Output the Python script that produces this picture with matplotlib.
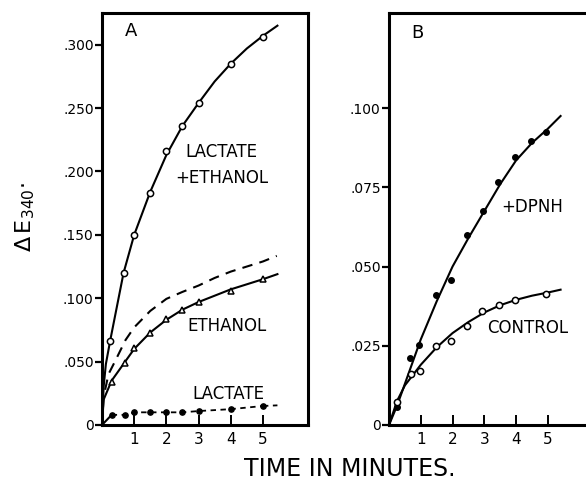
import matplotlib
matplotlib.use("Agg")
import matplotlib.pyplot as plt

# ---------------- data ----------------
# Panel A
lac_eth_x = [0.25, 0.67, 1.0, 1.5, 2.0, 2.5, 3.0, 4.0, 5.0]
lac_eth_y = [0.066, 0.120, 0.150, 0.183, 0.216, 0.236, 0.254, 0.285, 0.306]
lac_eth_curve_x = [0.0, 0.05, 0.12, 0.25, 0.67, 1.0, 1.5, 2.0, 2.5, 3.0, 3.5, 4.0, 4.5, 5.0, 5.45]
lac_eth_curve_y = [0.0, 0.030, 0.048, 0.066, 0.120, 0.150, 0.184, 0.213, 0.236, 0.254, 0.271, 0.285, 0.297, 0.307, 0.315]

eth_x = [0.3, 0.72, 1.0, 1.5, 2.0, 2.5, 3.0, 4.0, 5.0]
eth_y = [0.034, 0.049, 0.061, 0.0725, 0.084, 0.091, 0.097, 0.106, 0.115]
eth_curve_x = [0.0, 0.05, 0.3, 0.72, 1.0, 1.5, 2.0, 2.5, 3.0, 3.5, 4.0, 4.5, 5.0, 5.45]
eth_curve_y = [0.0, 0.020, 0.035, 0.050, 0.060, 0.073, 0.083, 0.091, 0.097, 0.102, 0.107, 0.111, 0.115, 0.119]

sum_curve_x = [0.0, 0.05, 0.2, 0.4, 0.73, 1.0, 1.5, 2.0, 2.5, 3.0, 3.5, 4.0, 4.5, 5.0, 5.43]
sum_curve_y = [0.0, 0.022, 0.040, 0.050, 0.067, 0.077, 0.090, 0.0995, 0.105, 0.110, 0.116, 0.121, 0.125, 0.129, 0.1334]

lac_x = [0.3, 0.7, 1.0, 1.5, 2.0, 2.5, 3.0, 4.0, 5.0]
lac_y = [0.008, 0.008, 0.010, 0.010, 0.010, 0.010, 0.011, 0.0125, 0.015]
lac_start_x = [0.0, 0.3]
lac_start_y = [0.0, 0.008]
lac_end_x = [5.0, 5.45]
lac_end_y = [0.015, 0.0155]

# Panel B
dpnh_x = [0.25, 0.66, 0.94, 1.47, 1.94, 2.44, 2.97, 3.44, 3.97, 4.47, 4.94]
dpnh_y = [0.0057, 0.021, 0.0253, 0.041, 0.0456, 0.060, 0.0674, 0.0766, 0.0845, 0.0896, 0.0924]
dpnh_curve_x = [0.0, 0.25, 1.0, 1.5, 2.0, 2.5, 3.0, 3.5, 4.0, 4.5, 5.0, 5.4]
dpnh_curve_y = [0.0, 0.006, 0.027, 0.039, 0.050, 0.059, 0.0675, 0.076, 0.0835, 0.089, 0.0935, 0.0975]

ctrl_x = [0.25, 0.69, 0.97, 1.47, 1.94, 2.44, 2.94, 3.47, 3.97, 4.94]
ctrl_y = [0.0073, 0.016, 0.017, 0.025, 0.0265, 0.0312, 0.036, 0.038, 0.0394, 0.0413]
ctrl_curve_x = [0.0, 0.25, 0.5, 1.0, 1.5, 2.0, 2.5, 3.0, 3.5, 4.0, 4.5, 5.0, 5.4]
ctrl_curve_y = [0.0, 0.0075, 0.0125, 0.019, 0.0245, 0.029, 0.0325, 0.0355, 0.0378, 0.0395, 0.0408, 0.0418, 0.0427]

a_yticks = [0, 0.05, 0.10, 0.15, 0.20, 0.25, 0.30]
a_yticklabels = ["0", ".050", ".100", ".150", ".200", ".250", ".300"]
b_yticks = [0, 0.025, 0.05, 0.075, 0.10]
b_yticklabels = ["0", ".025", ".050", ".075", ".100"]
xticks = [1, 2, 3, 4, 5]
xticklabels = ["1", "2", "3", "4", "5"]

# ---------------- figure ----------------
plt.rcParams['font.family'] = ['DejaVu Sans']
fig = plt.figure(figsize=(5.86, 4.82), dpi=100)
W, H = 586.0, 482.0
axA = fig.add_axes([102 / W, 1 - 425 / H, (308 - 102) / W, (425 - 13) / H])
axB = fig.add_axes([389 / W, 1 - 425 / H, (586 - 389) / W, (425 - 13) / H])

lw_axis = 2.2
lw_line = 1.5

for ax in (axA, axB):
    for s in ax.spines.values():
        s.set_linewidth(lw_axis)
    ax.tick_params(axis='y', direction='out', length=5, width=1.6, labelsize=10, pad=1)
    ax.tick_params(axis='x', direction='in', length=7, width=1.4, labelsize=11, pad=5)
    ax.set_xticks(xticks)
    ax.set_xticklabels(xticklabels)

axB.spines['right'].set_visible(False)

# Panel A
axA.set_xlim(0, 6.4)
axA.set_ylim(0, 0.325)
axA.set_yticks(a_yticks)
axA.set_yticklabels(a_yticklabels)

axA.plot(lac_eth_curve_x, lac_eth_curve_y, color='black', lw=lw_line)
axA.plot(lac_eth_x, lac_eth_y, 'o', mfc='white', mec='black', ms=4.5, mew=1.1)

axA.plot(sum_curve_x, sum_curve_y, color='black', lw=lw_line, ls=(0, (5, 3.5)))

axA.plot(eth_curve_x, eth_curve_y, color='black', lw=lw_line)
axA.plot(eth_x, eth_y, '^', mfc='white', mec='black', ms=5, mew=1.1)

axA.plot(lac_start_x, lac_start_y, color='black', lw=lw_line)
axA.plot(lac_x, lac_y, color='black', lw=1.3, ls=(0, (3, 2.5)))
axA.plot(lac_end_x, lac_end_y, color='black', lw=1.3, ls=(0, (3, 2.5)))
axA.plot(lac_x, lac_y, 'o', color='black', ms=3.8)

axA.text(0.14, 0.957, "A", transform=axA.transAxes, ha='center', va='center', fontsize=13)
axA.text(3.72, 0.215, "LACTATE", ha='center', va='center', fontsize=12)
axA.text(3.72, 0.195, "+ETHANOL", ha='center', va='center', fontsize=12)
axA.text(3.88, 0.078, "ETHANOL", ha='center', va='center', fontsize=12)
axA.text(3.93, 0.0245, "LACTATE", ha='center', va='center', fontsize=12)

# Panel B
axB.set_xlim(0, 6.2)
axB.set_ylim(0, 0.130)
axB.set_yticks(b_yticks)
axB.set_yticklabels(b_yticklabels)

axB.plot(dpnh_curve_x, dpnh_curve_y, color='black', lw=lw_line)
axB.plot(dpnh_x, dpnh_y, 'o', color='black', ms=4)

axB.plot(ctrl_curve_x, ctrl_curve_y, color='black', lw=lw_line)
axB.plot(ctrl_x, ctrl_y, 'o', mfc='white', mec='black', ms=4.5, mew=1.1)

axB.text(0.143, 0.951, "B", transform=axB.transAxes, ha='center', va='center', fontsize=13)
axB.text(4.5, 0.0688, "+DPNH", ha='center', va='center', fontsize=12)
axB.text(4.35, 0.0306, "CONTROL", ha='center', va='center', fontsize=12)

# Axis labels
fig.text(25 / W, 1 - 217 / H, r"$\Delta\,\mathrm{E}_{340}$·", rotation=90,
         ha='center', va='center', fontsize=16)
fig.text(350 / W, 1 - 469 / H, "TIME IN MINUTES.", ha='center', va='center', fontsize=17)

fig.savefig("out.png", dpi=100)
